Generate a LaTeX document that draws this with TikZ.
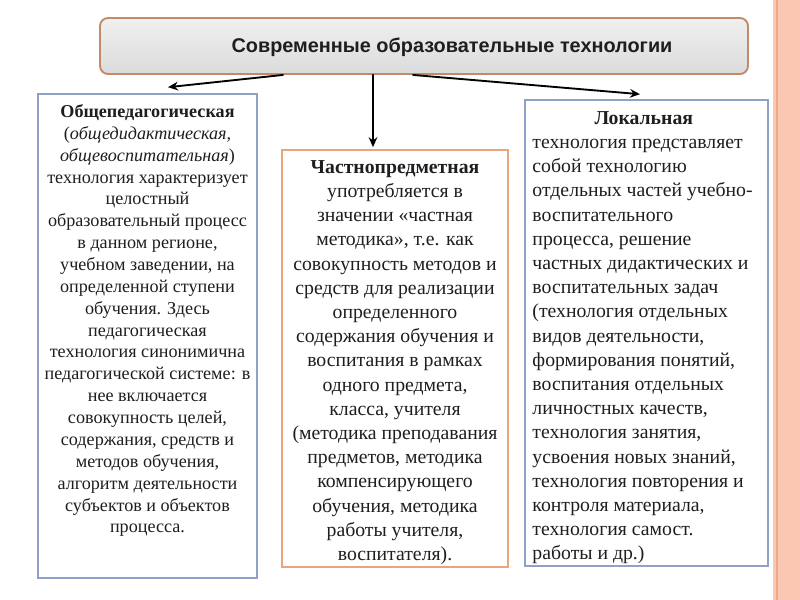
\documentclass[tikz,border=0pt]{standalone}
\usepackage{fontspec}
\setmainfont{Liberation Serif}
\setsansfont{Liberation Sans}
\usetikzlibrary{calc,positioning,arrows.meta}

\definecolor{boxblue}{HTML}{8EA2C9}
\definecolor{boxorange}{HTML}{E9A57E}
\definecolor{topedge}{HTML}{C28A66}
\definecolor{stripe}{HTML}{F9C7B2}
\definecolor{stripeline}{HTML}{EFA888}
\definecolor{txt}{HTML}{1E1E1E}

\tikzset{
  kind/.style={rectangle, draw=boxblue, fill=white, line width=1.2pt, inner sep=0pt},
  body/.style={anchor=north, inner sep=0pt, align=center, text=txt},
  small/.style={font=\fontsize{13.6}{16.4}\selectfont},
  large/.style={font=\fontsize{14.8}{18.15}\selectfont},
  arr/.style={->, line width=1.4pt, black},
}

\begin{document}
\begin{tikzpicture}[x=0.75pt, y=-0.75pt, line cap=round, >={Stealth[length=7.5pt,width=6.5pt]}]

\useasboundingbox (0,0) rectangle (800,600);

\fill[stripe] (773,0) rectangle (800,600);
\draw[stripeline, line width=1.2pt] (777,0) -- (777,600);

\node[rectangle, rounded corners=6pt, draw=topedge, line width=1.4pt,
  top color=black!6, bottom color=black!14,
  minimum width=486pt, minimum height=42pt] (top) at (424,46) {};
\node[font=\sffamily\bfseries\fontsize{14.9}{17}\selectfont, text=txt] (title)
  at ($(top)+(28,1)$) {Современные образовательные технологии};

\node[kind, minimum width=164.25pt, minimum height=363pt] (gen) at (147.5,336) {};
\node[kind, draw=boxorange, minimum width=169.5pt, minimum height=312.75pt] (subj) at (395,358.5) {};
\node[kind, minimum width=182.25pt, minimum height=349.5pt] (loc) at (646.5,333) {};

\draw[arr] ($(top.south)+(-141,0)$) -- ($(gen.north)+(20.5,-6)$);
\draw[arr] ($(top.south)+(-51,0)$) -- ($(subj.north)+(-22,-2)$);
\draw[arr] ($(top.south)+(-11,0)$) -- ($(loc.north)+(-6.5,-5)$);

\node[body, small] (gentxt) at ($(gen.north)+(0,11)$) {\textbf{Общепедагогическая}\\
(\textit{общедидактическая,}\\
\textit{общевоспитательная})\\
технология характеризует\\
целостный\\
образовательный процесс\\
в данном регионе,\\
учебном заведении, на\\
определенной ступени\\
обучения. Здесь\\
педагогическая\\
технология синонимична\\
педагогической системе: в\\
нее включается\\
совокупность целей,\\
содержания, средств и\\
методов обучения,\\
алгоритм деятельности\\
субъектов и объектов\\
процесса.};

\node[body, large] (subjtxt) at ($(subj.north)+(0,11)$) {\textbf{Частнопредметная}\\
употребляется в\\
значении «частная\\
методика», т.е. как\\
совокупность методов и\\
средств для реализации\\
определенного\\
содержания обучения и\\
воспитания в рамках\\
одного предмета,\\
класса, учителя\\
(методика преподавания\\
предметов, методика\\
компенсирующего\\
обучения, методика\\
работы учителя,\\
воспитателя).};

\node[body, large, anchor=north west, align=left] (loctxt) at ($(loc.north west)+(8,12)$) {%
\makebox[167pt]{\textbf{Локальная}}\\
технология представляет\\
собой технологию\\
отдельных частей учебно-\\
воспитательного\\
процесса, решение\\
частных дидактических и\\
воспитательных задач\\
(технология отдельных\\
видов деятельности,\\
формирования понятий,\\
воспитания отдельных\\
личностных качеств,\\
технология занятия,\\
усвоения новых знаний,\\
технология повторения и\\
контроля материала,\\
технология самост.\\
работы и др.)};

\end{tikzpicture}
\end{document}
